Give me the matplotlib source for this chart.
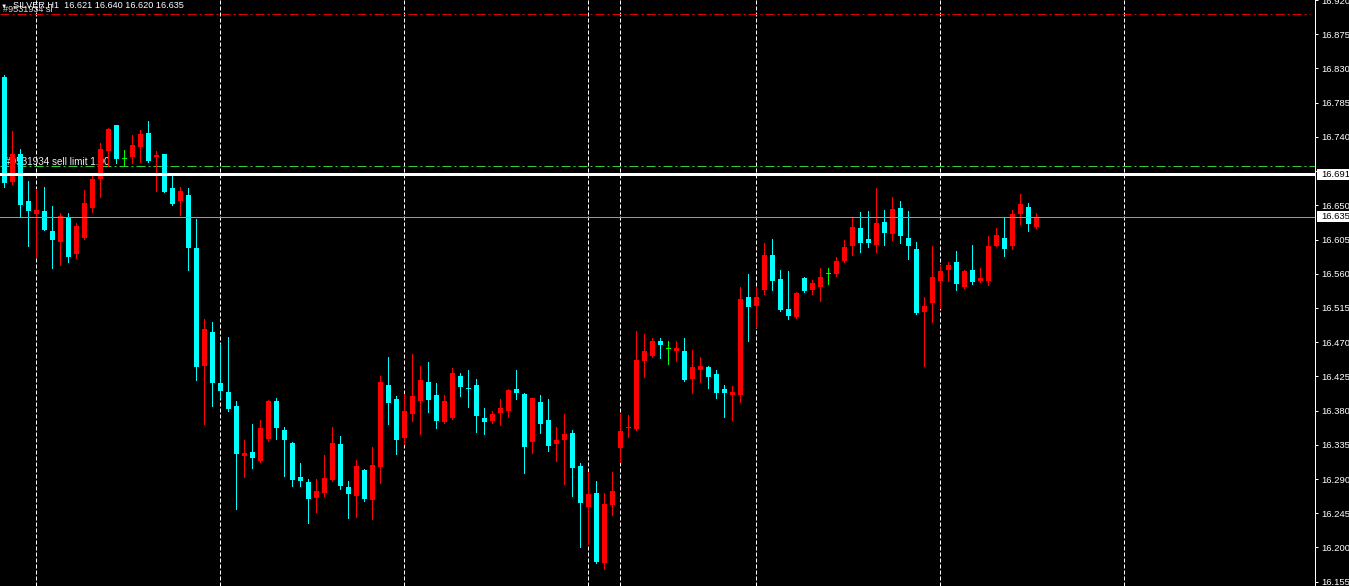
import matplotlib.pyplot as plt
from matplotlib.patches import Rectangle
from matplotlib.transforms import blended_transform_factory

plt.rcParams['font.family'] = ['Liberation Sans', 'DejaVu Sans']

symbol = "SILVER,H1"
last_ohlc = "16.621 16.640 16.620 16.635"
order_label = "#9531934 sell limit 1.00"
sl_label = "#9531934 sl"

# H1 candles, oldest first
opens = [16.819, 16.680, 16.718, 16.656, 16.639, 16.643, 16.616, 16.602, 16.635, 16.586,
         16.607, 16.647, 16.685, 16.721, 16.755, 16.711, 16.714, 16.727, 16.745, 16.714,
         16.717, 16.673, 16.655, 16.664, 16.594, 16.438, 16.483, 16.416, 16.405, 16.386,
         16.320, 16.325, 16.314, 16.343, 16.392, 16.355, 16.338, 16.292, 16.286, 16.265,
         16.272, 16.289, 16.336, 16.279, 16.268, 16.302, 16.263, 16.306, 16.413, 16.395,
         16.344, 16.375, 16.392, 16.417, 16.400, 16.365, 16.370, 16.425, 16.410, 16.413,
         16.370, 16.366, 16.377, 16.379, 16.408, 16.402, 16.339, 16.391, 16.367, 16.336,
         16.341, 16.351, 16.307, 16.253, 16.271, 16.180, 16.256, 16.331, 16.357, 16.356,
         16.445, 16.452, 16.471, 16.461, 16.458, 16.458, 16.421, 16.434, 16.437, 16.428,
         16.408, 16.401, 16.401, 16.530, 16.517, 16.538, 16.585, 16.553, 16.514, 16.503,
         16.555, 16.539, 16.543, 16.560, 16.560, 16.577, 16.596, 16.620, 16.606, 16.598,
         16.628, 16.612, 16.647, 16.607, 16.593, 16.509, 16.522, 16.550, 16.565, 16.576,
         16.542, 16.565, 16.551, 16.550, 16.597, 16.607, 16.596, 16.638, 16.648, 16.621]
highs = [16.822, 16.748, 16.724, 16.682, 16.672, 16.674, 16.649, 16.640, 16.640, 16.627,
         16.670, 16.689, 16.732, 16.751, 16.756, 16.723, 16.742, 16.749, 16.761, 16.721,
         16.718, 16.690, 16.674, 16.673, 16.632, 16.501, 16.497, 16.467, 16.477, 16.392,
         16.341, 16.362, 16.367, 16.394, 16.396, 16.358, 16.339, 16.311, 16.290, 16.290,
         16.321, 16.358, 16.347, 16.287, 16.315, 16.303, 16.332, 16.425, 16.451, 16.399,
         16.402, 16.454, 16.438, 16.444, 16.416, 16.401, 16.436, 16.430, 16.433, 16.421,
         16.383, 16.380, 16.395, 16.408, 16.433, 16.403, 16.397, 16.401, 16.395, 16.358,
         16.375, 16.354, 16.311, 16.299, 16.288, 16.272, 16.299, 16.375, 16.374, 16.484,
         16.481, 16.476, 16.476, 16.472, 16.472, 16.475, 16.460, 16.450, 16.439, 16.434,
         16.413, 16.412, 16.543, 16.560, 16.543, 16.601, 16.606, 16.565, 16.564, 16.536,
         16.556, 16.552, 16.568, 16.568, 16.582, 16.605, 16.634, 16.641, 16.643, 16.673,
         16.644, 16.661, 16.656, 16.643, 16.602, 16.529, 16.597, 16.572, 16.576, 16.590,
         16.565, 16.598, 16.567, 16.610, 16.620, 16.634, 16.644, 16.665, 16.653, 16.640]
lows = [16.674, 16.678, 16.634, 16.597, 16.582, 16.617, 16.567, 16.571, 16.575, 16.581,
        16.606, 16.641, 16.661, 16.702, 16.706, 16.703, 16.706, 16.707, 16.707, 16.669,
        16.667, 16.651, 16.637, 16.565, 16.420, 16.362, 16.386, 16.396, 16.379, 16.250,
        16.293, 16.305, 16.313, 16.340, 16.343, 16.294, 16.281, 16.281, 16.232, 16.246,
        16.268, 16.288, 16.277, 16.239, 16.240, 16.261, 16.238, 16.285, 16.362, 16.323,
        16.336, 16.366, 16.349, 16.378, 16.357, 16.364, 16.369, 16.399, 16.385, 16.352,
        16.349, 16.364, 16.361, 16.371, 16.395, 16.298, 16.324, 16.350, 16.327, 16.314,
        16.284, 16.268, 16.201, 16.205, 16.180, 16.171, 16.243, 16.312, 16.345, 16.355,
        16.424, 16.450, 16.449, 16.441, 16.445, 16.419, 16.403, 16.417, 16.410, 16.397,
        16.372, 16.367, 16.391, 16.471, 16.490, 16.533, 16.538, 16.511, 16.501, 16.502,
        16.536, 16.533, 16.524, 16.546, 16.557, 16.576, 16.585, 16.588, 16.595, 16.588,
        16.598, 16.605, 16.600, 16.580, 16.507, 16.438, 16.496, 16.515, 16.551, 16.539,
        16.541, 16.547, 16.549, 16.545, 16.596, 16.583, 16.592, 16.626, 16.616, 16.620]
closes = [16.679, 16.717, 16.650, 16.643, 16.644, 16.618, 16.605, 16.636, 16.582, 16.623,
          16.653, 16.685, 16.724, 16.750, 16.711, 16.711, 16.729, 16.744, 16.708, 16.716,
          16.668, 16.652, 16.669, 16.594, 16.437, 16.487, 16.416, 16.406, 16.382, 16.323,
          16.324, 16.318, 16.357, 16.393, 16.357, 16.341, 16.289, 16.287, 16.264, 16.274,
          16.291, 16.337, 16.281, 16.270, 16.307, 16.264, 16.308, 16.417, 16.390, 16.341,
          16.379, 16.399, 16.420, 16.394, 16.366, 16.392, 16.429, 16.411, 16.408, 16.373,
          16.365, 16.375, 16.384, 16.407, 16.403, 16.332, 16.396, 16.362, 16.333, 16.341,
          16.349, 16.305, 16.259, 16.270, 16.181, 16.257, 16.274, 16.353, 16.359, 16.446,
          16.458, 16.471, 16.466, 16.461, 16.462, 16.420, 16.437, 16.438, 16.424, 16.403,
          16.403, 16.404, 16.527, 16.516, 16.530, 16.585, 16.550, 16.512, 16.504, 16.534,
          16.537, 16.548, 16.556, 16.560, 16.577, 16.595, 16.622, 16.601, 16.600, 16.627,
          16.614, 16.645, 16.610, 16.597, 16.508, 16.518, 16.556, 16.563, 16.572, 16.546,
          16.564, 16.549, 16.554, 16.597, 16.611, 16.592, 16.638, 16.652, 16.626, 16.635]

# bars where a new session starts (dotted grid)
separators = [4, 27, 50, 73, 77, 94, 117, 140]
price_ticks = ["16.155", "16.200", "16.245", "16.290", "16.335", "16.380", "16.425",
               "16.470", "16.515", "16.560", "16.605", "16.650", "16.695", "16.740",
               "16.785", "16.830", "16.875", "16.920"]
bid = 16.635
order_price = 16.691
limit_line = 16.702
sl_line = 16.901

UP, DOWN, FLAT = '#ff0000', '#00ffff', '#00ff00'
px = 0.72  # one pixel in points at dpi 100
W, H = 1349, 586
price_per_px = 1 / 762

fig = plt.figure(figsize=(W / 100, H / 100), dpi=100, facecolor='black')
ax = fig.add_axes([0, 0, 1315 / W, 1])
ax.set_facecolor('black')

idx = list(range(len(opens)))
colors = [UP if c > o else DOWN if c < o else FLAT for o, c in zip(opens, closes)]
bottoms = [min(o, c) if o != c else o - price_per_px / 2 for o, c in zip(opens, closes)]
heights = [max(abs(c - o), price_per_px) for o, c in zip(opens, closes)]

ax.vlines(idx, lows, highs, colors=colors, lw=px, antialiased=False, zorder=3)
ax.bar(idx, heights, bottom=bottoms, width=0.625, color=colors, lw=0,
       antialiased=False, zorder=4)

for s in separators:
    ax.axvline(s, color='white', lw=px, dashes=(4, 2), zorder=1)

ax.axhline(sl_line, color='#e00000', lw=px, dashes=(9, 3, 2, 3), xmax=1310 / 1315, zorder=2)
ax.axhline(limit_line, color='#32cd32', lw=px, dashes=(9, 3, 2, 3), zorder=2)
ax.axhline(order_price, color='white', lw=3 * px, zorder=6)
ax.axhline(bid, color='#9a9a9a', lw=px, zorder=6)

ax.set_xlim(-4.3 / 8, -4.3 / 8 + 1315 / 8)
ax.set_ylim(16.9183 - 586 * price_per_px, 16.9183)

trans = blended_transform_factory(ax.transAxes, ax.transData)
ax.text(5 / 1315, limit_line + 1.2 * price_per_px, order_label, transform=trans,
        color='#f0f0f0', size=7.1, va='baseline', ha='left', zorder=2)
ax.text(3 / 1315, sl_line + 2 * price_per_px, sl_label, transform=trans,
        color='#d8d8d8', size=6.6, va='baseline', ha='left', zorder=2)

# price scale
ax.yaxis.tick_right()
ax.set_yticks([float(t) for t in price_ticks])
ax.set_yticklabels(price_ticks)
ax.tick_params(axis='y', colors='white', length=3 * px, width=px, pad=3 * px,
               labelsize=6.8, direction='out')
ax.set_xticks([])
for side in ['left', 'top', 'bottom']:
    ax.spines[side].set_visible(False)
ax.spines['right'].set_color('white')
ax.spines['right'].set_linewidth(px)

top = ax.get_ylim()[1]
for t in price_ticks:
    if float(t) > top:
        ax.text(1 + 6 / 1315, float(t), t, transform=trans, color='white', size=6.8,
                va='center', ha='left', clip_on=False)

for value, label in [(order_price, "16.691"), (bid, "16.635")]:
    ax.add_patch(Rectangle((1 + 2 / 1315, value - 5.5 * price_per_px), 34 / 1315,
                           11 * price_per_px, transform=trans, fc='white', ec='none',
                           clip_on=False, zorder=10))
    ax.text(1 + 6 / 1315, value, label, transform=trans, color='black', size=6.8,
            va='center', ha='left', clip_on=False, zorder=11)

fig.text(0.5 / W, 1 - 8 / H, '\u25bc', color='white', size=4.5, va='baseline')
fig.text(12.7 / W, 1 - 7.5 / H, symbol + '  ' + last_ohlc, color='white', size=6.6,
         va='baseline', ha='left')

fig.savefig('out.png', dpi=100, facecolor='black')
